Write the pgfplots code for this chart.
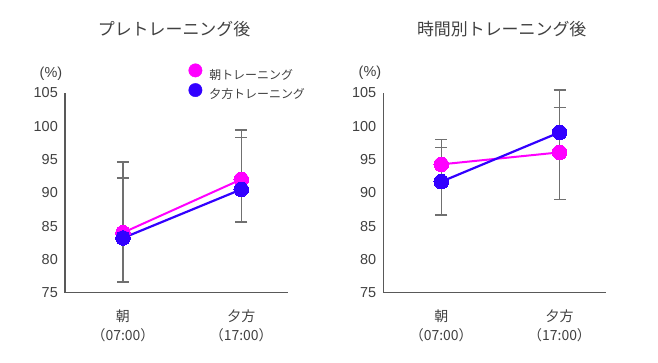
\documentclass[border=0pt]{standalone}
\usepackage{pgfplots}
\pgfplotsset{compat=1.18}
\usepackage{fontspec}
\setmainfont{Liberation Sans}
\newfontfamily\cjk{Noto Sans CJK JP}
\definecolor{mag}{HTML}{FF00FF}
\definecolor{blu}{HTML}{3300FF}
\definecolor{txt}{HTML}{404040}
\definecolor{axl}{HTML}{595959}
\definecolor{err}{HTML}{707070}
\pgfplotsset{myaxis/.style={
  scale only axis, width=223bp, height=200bp, anchor=south west,
  xmin=-0.49, xmax=1.395, ymin=75, ymax=105, ytick={75,80,...,105},
  xtick={0,1}, xticklabels={{朝\\（07:00）},{夕方\\（17:00）}},
  axis lines=left, axis line style={-, draw=axl, line width=1.5bp},
  major tick length=0pt, tick style={draw=none},
  clip=false,
  /pgf/number format/assume math mode=true,
  yticklabel style={font=\fontsize{14.5}{16}\selectfont, text=txt, inner sep=0pt, xshift=-7bp},
  xticklabel style={font=\cjk\fontsize{14}{19}\selectfont, text=txt, align=center, inner sep=0pt, yshift=-16.5bp},
  errs/.style={forget plot, draw=none, mark=none,
    error bars/.cd, y dir=both, y explicit,
    error bar style={draw=err, solid, line width=1.5bp},
    error mark options={draw=err, solid, line width=1.5bp, mark size=6bp, rotate=90}},
  magser/.style={forget plot, draw=mag, line width=2bp, mark=*, mark size=7.3bp, mark options={fill=mag, draw=mag, line width=0pt}},
  bluser/.style={forget plot, draw=blu, line width=2.2bp, mark=*, mark size=7.3bp, mark options={fill=blu, draw=blu, line width=0pt}},
}}
\begin{document}
\begin{tikzpicture}
\useasboundingbox (0,0) rectangle (658bp,363bp);
% Left panel
\begin{axis}[myaxis, at={(65bp,70.3bp)},
  legend style={at={(rel axis cs:0.5538,1.146)}, anchor=north west, draw=none, fill=none,
    inner sep=0pt, outer sep=0pt, font=\cjk\fontsize{12}{14}\selectfont, text=txt,
    row sep=2.5bp, column sep=7bp, nodes={inner sep=0pt}},
  legend cell align=left]
\addplot[errs] coordinates {
  (0,84.0) += (0,10.6) -= (0,7.4)
  (0,83.2) += (0,9.0) -= (0,0)
  (1,92.0) += (0,7.4) -= (0,6.4)
  (1,90.5) += (0,7.75) -= (0,0)
};
\addplot[magser] coordinates {(0,84.0) (1,92.0)};
\addplot[bluser] coordinates {(0,83.2) (1,90.5)};
\addlegendimage{legend image code/.code={\fill[mag] (0bp,4.5bp) circle (6.7bp);}}
\addlegendentry{朝トレーニング}
\addlegendimage{legend image code/.code={\fill[blu] (0bp,4.5bp) circle (6.7bp);}}
\addlegendentry{夕方トレーニング}
\node[font=\cjk\fontsize{17}{20}\selectfont, text=txt] at (rel axis cs:0.489,1.318) {プレトレーニング後};
\node[font=\fontsize{14.5}{16}\selectfont, text=txt] at (rel axis cs:-0.063,1.097) {(\%)};
\end{axis}
% Right panel
\begin{axis}[myaxis, at={(383.3bp,70.3bp)}]
\addplot[errs] coordinates {
  (0,94.25) += (0,3.75) -= (0,0)
  (0,91.65) += (0,5.1) -= (0,5.0)
  (1,96.05) += (0,6.7) -= (0,0)
  (1,99.05) += (0,6.35) -= (0,10.05)
};
\addplot[magser] coordinates {(0,94.25) (1,96.05)};
\addplot[bluser] coordinates {(0,91.65) (1,99.05)};
\node[font=\cjk\fontsize{17}{20}\selectfont, text=txt] at (rel axis cs:0.531,1.318) {時間別トレーニング後};
\node[font=\fontsize{14.5}{16}\selectfont, text=txt] at (rel axis cs:-0.06,1.10) {(\%)};
\end{axis}
\end{tikzpicture}
\end{document}
